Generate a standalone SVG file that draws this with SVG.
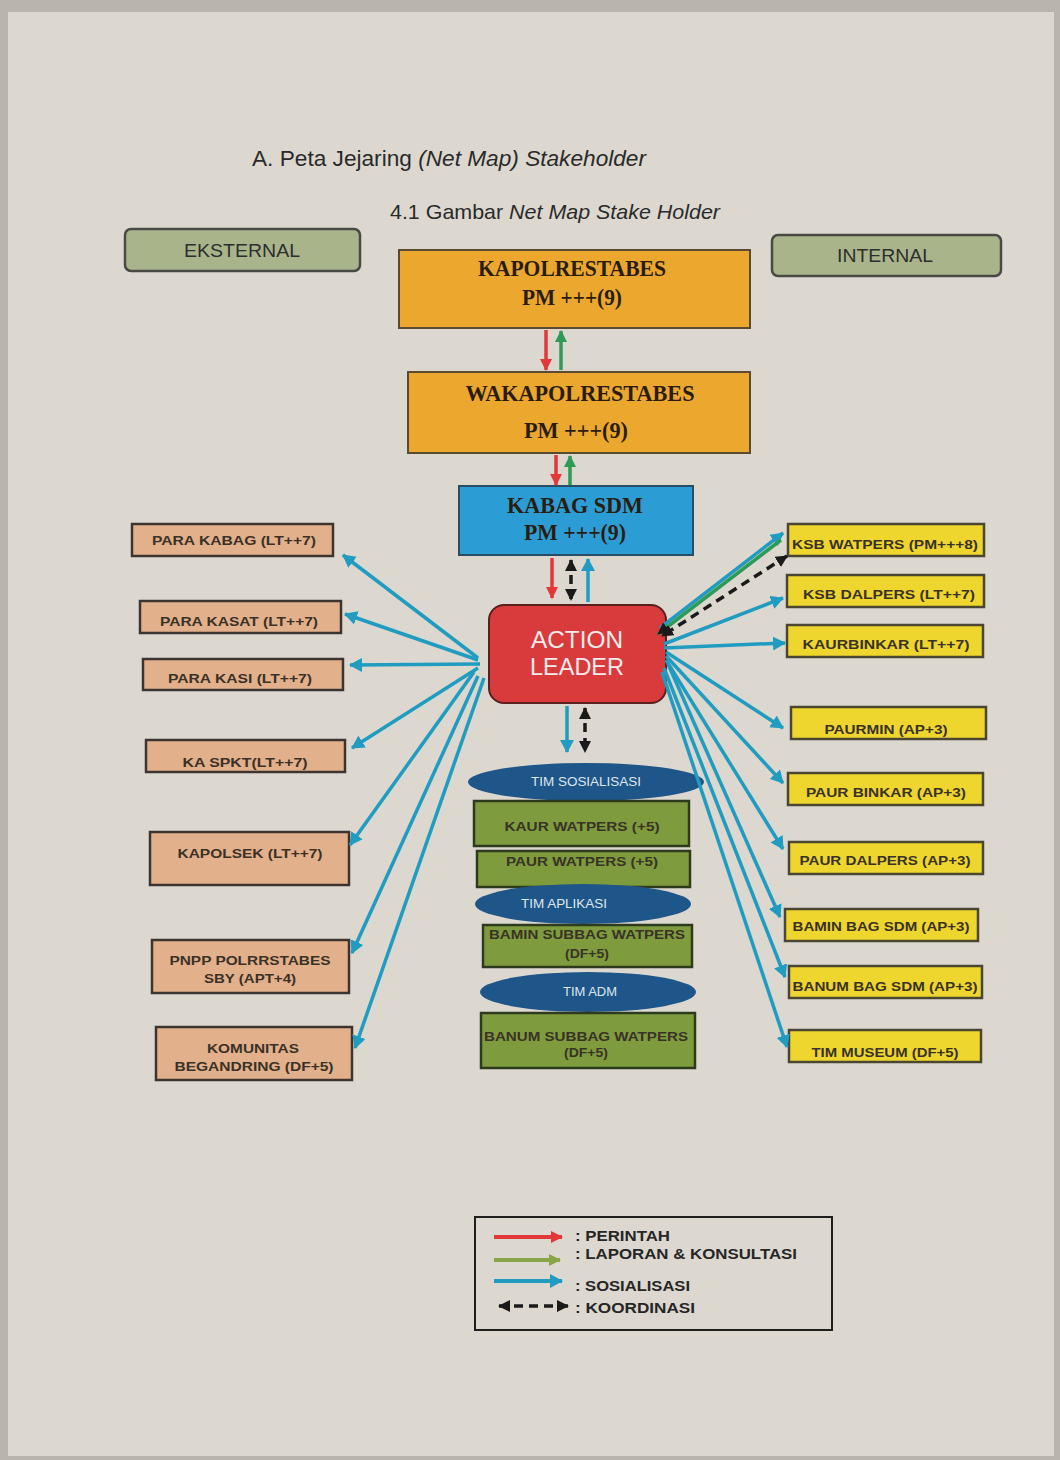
<svg xmlns="http://www.w3.org/2000/svg" width="1060" height="1460" viewBox="0 0 1060 1460">
  <style>
    .head { font-family: "Liberation Sans", Arial, sans-serif; fill: #2a2a2a; }
    .hdr { fill: #a9b48b; stroke: #4a4a44; stroke-width: 2.5; }
    .lbl-hdr { font-family: "Liberation Sans", Arial, sans-serif; font-size: 18px; fill: #2e2e2e; text-anchor: middle; }
    .chief { fill: #eca72e; stroke: #5a4a30; stroke-width: 2; }
    .kabag { fill: #2c9dd4; stroke: #2a4d66; stroke-width: 2; }
    .serif { font-family: "Liberation Serif", "Times New Roman", serif; font-weight: bold; font-size: 23px; fill: #2a1c10; text-anchor: middle; }
    .leader { fill: #d93a3c; stroke: #5a2020; stroke-width: 2; }
    .lbl-leader { font-family: "Liberation Sans", Arial, sans-serif; font-size: 23px; fill: #f4ecec; text-anchor: middle; }
    .ext { fill: #e3b08c; stroke: #3c3430; stroke-width: 2.5; }
    .int { fill: #efd62e; stroke: #4a4632; stroke-width: 2.5; }
    .team { fill: #7e9c3e; stroke: #2e3a1e; stroke-width: 2.5; }
    .oval { fill: #1f5689; }
    .lbl { font-family: "Liberation Sans", Arial, sans-serif; font-weight: bold; font-size: 13px; fill: #3a3226; text-anchor: middle; }
    .lbl-oval { font-family: "Liberation Sans", Arial, sans-serif; font-size: 12px; fill: #dfe6ee; text-anchor: middle; }
    .c-blue { stroke: #1f9cc0; stroke-width: 3.5; fill: none; }
    .c-red { stroke: #e2383a; stroke-width: 3.5; fill: none; }
    .c-green { stroke: #2f9a54; stroke-width: 3.5; fill: none; }
    .c-black { stroke: #1a1a1a; stroke-width: 3.5; fill: none; stroke-dasharray: 9 6; }
    .legend-txt { font-family: "Liberation Sans", Arial, sans-serif; font-weight: bold; font-size: 14px; fill: #262626; }
  </style>
  <defs>
    <marker id="aBlue" markerUnits="userSpaceOnUse" markerWidth="14" markerHeight="14" refX="12" refY="7" orient="auto-start-reverse">
      <path d="M0,0 L13,7 L0,14 Z" fill="#1f9cc0"/>
    </marker>
    <marker id="aRed" markerUnits="userSpaceOnUse" markerWidth="12" markerHeight="12" refX="11" refY="6" orient="auto-start-reverse">
      <path d="M0,0 L12,6 L0,12 Z" fill="#e2383a"/>
    </marker>
    <marker id="aGreen" markerUnits="userSpaceOnUse" markerWidth="12" markerHeight="12" refX="11" refY="6" orient="auto-start-reverse">
      <path d="M0,0 L12,6 L0,12 Z" fill="#2f9a54"/>
    </marker>
    <marker id="aGreenLeg" markerUnits="userSpaceOnUse" markerWidth="12" markerHeight="12" refX="11" refY="6" orient="auto-start-reverse">
      <path d="M0,0 L12,6 L0,12 Z" fill="#8aa44a"/>
    </marker>
    <marker id="aBlack" markerUnits="userSpaceOnUse" markerWidth="12" markerHeight="12" refX="11" refY="6" orient="auto-start-reverse">
      <path d="M0,0 L12,6 L0,12 Z" fill="#1a1a1a"/>
    </marker>
  </defs>

  <!-- page -->
  <rect x="0" y="0" width="1060" height="1460" fill="#b9b5ad"/>
  <rect x="8" y="12" width="1046" height="1444" fill="#dcd8d0"/>

  <!-- headings -->
  <text class="head" x="252" y="166" font-size="22" textLength="394" lengthAdjust="spacingAndGlyphs">A. Peta Jejaring <tspan font-style="italic">(Net Map) Stakeholder</tspan></text>
  <text class="head" x="390" y="219" font-size="21" textLength="330" lengthAdjust="spacingAndGlyphs">4.1 Gambar <tspan font-style="italic">Net Map Stake Holder</tspan></text>

  <g id="eksternal">
    <rect class="hdr" x="125" y="229" width="235" height="42" rx="6"/>
    <text class="lbl-hdr" x="242" y="257" textLength="116" lengthAdjust="spacingAndGlyphs">EKSTERNAL</text>
  </g>
  <g id="internal">
    <rect class="hdr" x="772" y="235" width="229" height="41" rx="6"/>
    <text class="lbl-hdr" x="885" y="262" textLength="96" lengthAdjust="spacingAndGlyphs">INTERNAL</text>
  </g>

  <!-- command chain -->
  <g id="kapolrestabes">
    <rect class="chief" x="399" y="250" width="351" height="78"/>
    <text class="serif" x="572" y="276" textLength="188" lengthAdjust="spacingAndGlyphs">KAPOLRESTABES</text>
    <text class="serif" x="572" y="305" textLength="100" lengthAdjust="spacingAndGlyphs">PM +++(9)</text>
  </g>
  <g id="wakapolrestabes">
    <rect class="chief" x="408" y="372" width="342" height="81"/>
    <text class="serif" x="580" y="401" textLength="229" lengthAdjust="spacingAndGlyphs">WAKAPOLRESTABES</text>
    <text class="serif" x="576" y="438" textLength="104" lengthAdjust="spacingAndGlyphs">PM +++(9)</text>
  </g>
  <g id="kabag-sdm">
    <rect class="kabag" x="459" y="486" width="234" height="69"/>
    <text class="serif" x="575" y="513" textLength="136" lengthAdjust="spacingAndGlyphs">KABAG SDM</text>
    <text class="serif" x="575" y="540" textLength="102" lengthAdjust="spacingAndGlyphs">PM +++(9)</text>
  </g>
  <g id="action-leader">
    <rect class="leader" x="489" y="605" width="177" height="98" rx="15"/>
    <text class="lbl-leader" x="577" y="648" textLength="92" lengthAdjust="spacingAndGlyphs">ACTION</text>
    <text class="lbl-leader" x="577" y="675" textLength="94" lengthAdjust="spacingAndGlyphs">LEADER</text>
  </g>

  <!-- teams below the action leader -->
  <g id="tim-sosialisasi">
    <ellipse class="oval" cx="586" cy="782" rx="118" ry="19"/>
    <text class="lbl-oval" x="586" y="786" textLength="110" lengthAdjust="spacingAndGlyphs">TIM SOSIALISASI</text>
  </g>
  <g id="kaur-watpers">
    <rect class="team" x="474" y="801" width="215" height="45"/>
    <text class="lbl" x="582" y="831" textLength="155" lengthAdjust="spacingAndGlyphs">KAUR WATPERS (+5)</text>
  </g>
  <g id="paur-watpers">
    <rect class="team" x="477" y="851" width="213" height="36"/>
    <text class="lbl" x="582" y="866" textLength="152" lengthAdjust="spacingAndGlyphs">PAUR WATPERS (+5)</text>
  </g>
  <g id="tim-aplikasi">
    <ellipse class="oval" cx="583" cy="904" rx="108" ry="20"/>
    <text class="lbl-oval" x="564" y="908" textLength="86" lengthAdjust="spacingAndGlyphs">TIM APLIKASI</text>
  </g>
  <g id="bamin-subbag-watpers">
    <rect class="team" x="483" y="925" width="209" height="42"/>
    <text class="lbl" x="587" y="939" textLength="196" lengthAdjust="spacingAndGlyphs">BAMIN SUBBAG WATPERS</text>
    <text class="lbl" x="587" y="958" textLength="44" lengthAdjust="spacingAndGlyphs">(DF+5)</text>
  </g>
  <g id="tim-adm">
    <ellipse class="oval" cx="588" cy="992" rx="108" ry="20"/>
    <text class="lbl-oval" x="590" y="996" textLength="54" lengthAdjust="spacingAndGlyphs">TIM ADM</text>
  </g>
  <g id="banum-subbag-watpers">
    <rect class="team" x="481" y="1013" width="214" height="55"/>
    <text class="lbl" x="586" y="1041" textLength="204" lengthAdjust="spacingAndGlyphs">BANUM SUBBAG WATPERS</text>
    <text class="lbl" x="586" y="1057" textLength="44" lengthAdjust="spacingAndGlyphs">(DF+5)</text>
  </g>

  <!-- external stakeholders -->
  <g id="para-kabag">
    <rect class="ext" x="132" y="524" width="201" height="32"/>
    <text class="lbl" x="234" y="545" textLength="164" lengthAdjust="spacingAndGlyphs">PARA KABAG (LT++7)</text>
  </g>
  <g id="para-kasat">
    <rect class="ext" x="140" y="601" width="201" height="32"/>
    <text class="lbl" x="239" y="626" textLength="158" lengthAdjust="spacingAndGlyphs">PARA KASAT (LT++7)</text>
  </g>
  <g id="para-kasi">
    <rect class="ext" x="143" y="659" width="200" height="31"/>
    <text class="lbl" x="240" y="683" textLength="144" lengthAdjust="spacingAndGlyphs">PARA KASI (LT++7)</text>
  </g>
  <g id="ka-spkt">
    <rect class="ext" x="146" y="740" width="199" height="32"/>
    <text class="lbl" x="245" y="767" textLength="125" lengthAdjust="spacingAndGlyphs">KA SPKT(LT++7)</text>
  </g>
  <g id="kapolsek">
    <rect class="ext" x="150" y="832" width="199" height="53"/>
    <text class="lbl" x="250" y="858" textLength="145" lengthAdjust="spacingAndGlyphs">KAPOLSEK (LT++7)</text>
  </g>
  <g id="pnpp">
    <rect class="ext" x="152" y="940" width="197" height="53"/>
    <text class="lbl" x="250" y="965" textLength="161" lengthAdjust="spacingAndGlyphs">PNPP POLRRSTABES</text>
    <text class="lbl" x="250" y="983" textLength="92" lengthAdjust="spacingAndGlyphs">SBY (APT+4)</text>
  </g>
  <g id="komunitas-begandring">
    <rect class="ext" x="156" y="1027" width="196" height="53"/>
    <text class="lbl" x="253" y="1053" textLength="92" lengthAdjust="spacingAndGlyphs">KOMUNITAS</text>
    <text class="lbl" x="254" y="1071" textLength="159" lengthAdjust="spacingAndGlyphs">BEGANDRING (DF+5)</text>
  </g>

  <!-- internal stakeholders -->
  <g id="ksb-watpers">
    <rect class="int" x="788" y="524" width="196" height="32"/>
    <text class="lbl" x="885" y="549" textLength="186" lengthAdjust="spacingAndGlyphs">KSB WATPERS (PM+++8)</text>
  </g>
  <g id="ksb-dalpers">
    <rect class="int" x="787" y="575" width="197" height="32"/>
    <text class="lbl" x="889" y="599" textLength="172" lengthAdjust="spacingAndGlyphs">KSB DALPERS (LT++7)</text>
  </g>
  <g id="kaurbinkar">
    <rect class="int" x="787" y="625" width="196" height="32"/>
    <text class="lbl" x="886" y="649" textLength="167" lengthAdjust="spacingAndGlyphs">KAURBINKAR (LT++7)</text>
  </g>
  <g id="paurmin">
    <rect class="int" x="791" y="707" width="195" height="32"/>
    <text class="lbl" x="886" y="734" textLength="123" lengthAdjust="spacingAndGlyphs">PAURMIN (AP+3)</text>
  </g>
  <g id="paur-binkar">
    <rect class="int" x="788" y="773" width="195" height="32"/>
    <text class="lbl" x="886" y="797" textLength="160" lengthAdjust="spacingAndGlyphs">PAUR BINKAR (AP+3)</text>
  </g>
  <g id="paur-dalpers">
    <rect class="int" x="789" y="842" width="194" height="32"/>
    <text class="lbl" x="885" y="865" textLength="171" lengthAdjust="spacingAndGlyphs">PAUR DALPERS (AP+3)</text>
  </g>
  <g id="bamin-bag-sdm">
    <rect class="int" x="785" y="909" width="193" height="32"/>
    <text class="lbl" x="881" y="931" textLength="177" lengthAdjust="spacingAndGlyphs">BAMIN BAG SDM (AP+3)</text>
  </g>
  <g id="banum-bag-sdm">
    <rect class="int" x="789" y="966" width="193" height="32"/>
    <text class="lbl" x="885" y="991" textLength="185" lengthAdjust="spacingAndGlyphs">BANUM BAG SDM (AP+3)</text>
  </g>
  <g id="tim-museum">
    <rect class="int" x="789" y="1030" width="192" height="32"/>
    <text class="lbl" x="885" y="1057" textLength="147" lengthAdjust="spacingAndGlyphs">TIM MUSEUM (DF+5)</text>
  </g>

  <!-- connectors -->
  <g id="connectors">
    <!-- chain of command -->
    <line class="c-red" x1="546" y1="330" x2="546" y2="370" marker-end="url(#aRed)"/>
    <line class="c-green" x1="561" y1="370" x2="561" y2="331" marker-end="url(#aGreen)"/>
    <line class="c-red" x1="556" y1="455" x2="556" y2="485" marker-end="url(#aRed)"/>
    <line class="c-green" x1="570" y1="485" x2="570" y2="456" marker-end="url(#aGreen)"/>
    <line class="c-red" x1="552" y1="558" x2="552" y2="598" marker-end="url(#aRed)"/>
    <line class="c-black" x1="571" y1="560" x2="571" y2="600" marker-start="url(#aBlack)" marker-end="url(#aBlack)"/>
    <line class="c-blue" x1="588" y1="602" x2="588" y2="559" marker-end="url(#aBlue)"/>
    <line class="c-blue" x1="567" y1="706" x2="567" y2="752" marker-end="url(#aBlue)"/>
    <line class="c-black" x1="585" y1="708" x2="585" y2="752" marker-start="url(#aBlack)" marker-end="url(#aBlack)"/>

    <!-- action leader to external stakeholders -->
    <line class="c-blue" x1="478" y1="658" x2="343" y2="555" marker-end="url(#aBlue)"/>
    <line class="c-blue" x1="478" y1="660" x2="345" y2="614" marker-end="url(#aBlue)"/>
    <line class="c-blue" x1="480" y1="664" x2="350" y2="665" marker-end="url(#aBlue)"/>
    <line class="c-blue" x1="478" y1="668" x2="352" y2="748" marker-end="url(#aBlue)"/>
    <line class="c-blue" x1="474" y1="672" x2="350" y2="845" marker-end="url(#aBlue)"/>
    <line class="c-blue" x1="478" y1="676" x2="352" y2="953" marker-end="url(#aBlue)"/>
    <line class="c-blue" x1="484" y1="678" x2="355" y2="1048" marker-end="url(#aBlue)"/>

    <!-- action leader to internal stakeholders -->
    <line class="c-blue" x1="660" y1="628" x2="783" y2="533" marker-end="url(#aBlue)"/>
    <line class="c-green" x1="781" y1="540" x2="658" y2="634" marker-end="url(#aBlack)"/>
    <line class="c-black" x1="787" y1="556" x2="662" y2="636" marker-start="url(#aBlack)" marker-end="url(#aBlack)"/>
    <line class="c-blue" x1="664" y1="644" x2="783" y2="598" marker-end="url(#aBlue)"/>
    <line class="c-blue" x1="664" y1="648" x2="785" y2="643" marker-end="url(#aBlue)"/>
    <line class="c-blue" x1="666" y1="652" x2="783" y2="728" marker-end="url(#aBlue)"/>
    <line class="c-blue" x1="666" y1="656" x2="783" y2="783" marker-end="url(#aBlue)"/>
    <line class="c-blue" x1="666" y1="660" x2="783" y2="849" marker-end="url(#aBlue)"/>
    <line class="c-blue" x1="668" y1="664" x2="780" y2="917" marker-end="url(#aBlue)"/>
    <line class="c-blue" x1="664" y1="668" x2="785" y2="977" marker-end="url(#aBlue)"/>
    <line class="c-blue" x1="662" y1="672" x2="787" y2="1047" marker-end="url(#aBlue)"/>
  </g>

  <!-- legend -->
  <g id="legend">
    <rect x="475" y="1217" width="357" height="113" fill="none" stroke="#1e1e1e" stroke-width="2"/>
    <line x1="494" y1="1237" x2="562" y2="1237" stroke="#e2383a" stroke-width="4" marker-end="url(#aRed)"/>
    <line x1="494" y1="1260" x2="560" y2="1260" stroke="#8aa44a" stroke-width="4" marker-end="url(#aGreenLeg)"/>
    <line x1="494" y1="1281" x2="562" y2="1281" stroke="#1f9cc0" stroke-width="4" marker-end="url(#aBlue)"/>
    <line x1="499" y1="1306" x2="568" y2="1306" stroke="#1a1a1a" stroke-width="3.5" stroke-dasharray="9 6" marker-start="url(#aBlack)" marker-end="url(#aBlack)"/>
    <text class="legend-txt" x="575" y="1241" textLength="95" lengthAdjust="spacingAndGlyphs">: PERINTAH</text>
    <text class="legend-txt" x="575" y="1259" textLength="222" lengthAdjust="spacingAndGlyphs">: LAPORAN &amp; KONSULTASI</text>
    <text class="legend-txt" x="575" y="1291" textLength="115" lengthAdjust="spacingAndGlyphs">: SOSIALISASI</text>
    <text class="legend-txt" x="575" y="1313" textLength="120" lengthAdjust="spacingAndGlyphs">: KOORDINASI</text>
  </g>
</svg>
